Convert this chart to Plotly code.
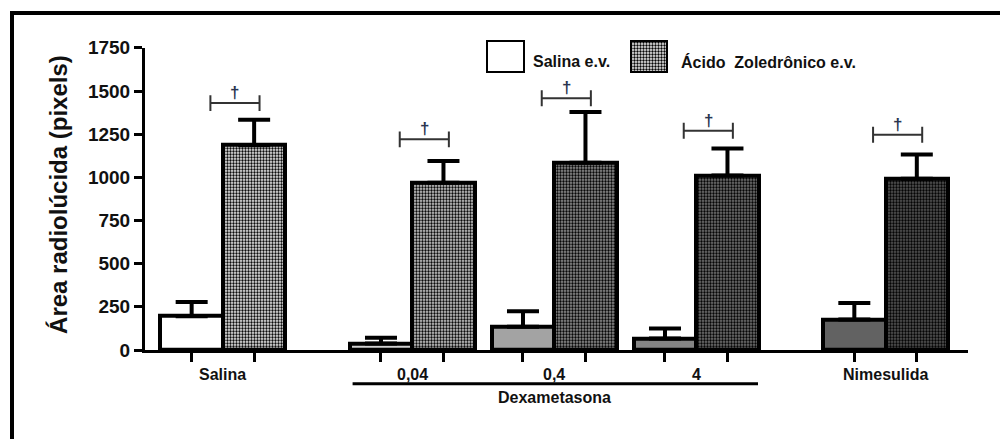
import plotly.graph_objects as go

# ---------------- data ----------------
groups = ["Salina", "0,04", "0,4", "4", "Nimesulida"]
salina_ev = [195, 38, 134, 67, 177]
salina_ev_sem = [83, 33, 90, 58, 95]
zol_ev = [1186, 969, 1084, 1011, 992]
zol_ev_sem = [148, 125, 294, 156, 140]
bracket_y = [1430, 1220, 1458, 1270, 1247]
y_ticks = [0, 250, 500, 750, 1000, 1250, 1500, 1750]
series_names = ["Salina e.v.", "Ácido\u00a0 Zoledrônico e.v."]
dex_label = "Dexametasona"
y_title = "Área radiolúcida (pixels)"
sig_mark = "\u2020"

# ---------------- layout helpers ----------------
W, H = 1000, 439
ML, MR, MT, MB = 145, 32, 20, 89
PW = W - ML - MR
PH = H - MT - MB
AX_BOTTOM = H - MB
AX_TOP = 46


def px_x(px):
    return (px - ML) / PW


def px_y(py):
    return (AX_BOTTOM - py) / PH


centers = [0, 4 / 3, 7 / 3, 10 / 3, 14 / 3]
half = 0.22
bw = 0.44
x_left = [c - half for c in centers]
x_right = [c + half for c in centers]

sal_fill = ["#ffffff", "#d2d2d2", "#a3a3a3", "#848484", "#626262"]
zol_bg = ["#ffffff", "#dcdcdc", "#9c9c9c", "#7c7c7c", "#5c5c5c"]

FONT = "Liberation Sans, Arial, sans-serif"
TXT = "#111111"

fig = go.Figure()

fig.add_trace(go.Bar(
    x=x_left, y=salina_ev, width=bw, name=series_names[0],
    marker=dict(color=sal_fill, line=dict(color="black", width=4)),
    error_y=dict(type="data", symmetric=False, array=salina_ev_sem,
                 arrayminus=[0] * len(salina_ev), color="black",
                 thickness=4, width=16),
    showlegend=False,
))
fig.add_trace(go.Bar(
    x=x_right, y=zol_ev, width=bw, name=series_names[1],
    marker=dict(color="black", line=dict(color="black", width=4),
                pattern=dict(shape=".", fgcolor="black", bgcolor=zol_bg,
                             size=3, solidity=0.5, fillmode="replace")),
    error_y=dict(type="data", symmetric=False, array=zol_ev_sem,
                 arrayminus=[0] * len(zol_ev), color="black",
                 thickness=4, width=16),
    showlegend=False,
))

# legend boxes on their own small axes
LX0, LX1, LY0, LY1 = 480, 675, 33, 76
fig.add_trace(go.Bar(
    x=[505.5], y=[31], base=[39], width=[37], xaxis="x2", yaxis="y2",
    marker=dict(color="white", line=dict(color="black", width=2)),
    showlegend=False, hoverinfo="skip",
))
fig.add_trace(go.Bar(
    x=[649], y=[31], base=[39], width=[36], xaxis="x2", yaxis="y2",
    marker=dict(color="black", line=dict(color="black", width=2),
                pattern=dict(shape=".", fgcolor="black", bgcolor="white",
                             size=3, solidity=0.5, fillmode="replace")),
    showlegend=False, hoverinfo="skip",
))

annotations = []
shapes = []

# legend texts
annotations.append(dict(x=px_x(531), y=px_y(60), xref="paper", yref="paper",
                        text=series_names[0], showarrow=False, xanchor="left",
                        yanchor="middle",
                        font=dict(family=FONT, size=16, color=TXT, weight="bold")))
annotations.append(dict(x=px_x(679), y=px_y(60), xref="paper", yref="paper",
                        text=series_names[1], showarrow=False, xanchor="left",
                        yanchor="middle",
                        font=dict(family=FONT, size=16, color=TXT, weight="bold")))

# group labels
for c, g in zip(centers, groups):
    annotations.append(dict(x=c, y=px_y(375), xref="x", yref="paper", text=g,
                            showarrow=False, xanchor="center", yanchor="middle",
                            font=dict(family=FONT, size=16, color=TXT, weight="bold")))

# Dexametasona underline + label
shapes.append(dict(type="line", xref="x", yref="paper",
                   x0=centers[1] - 0.42, x1=centers[3] + 0.435,
                   y0=px_y(384), y1=px_y(384),
                   line=dict(color="black", width=3)))
annotations.append(dict(x=centers[2], y=px_y(398), xref="x", yref="paper",
                        text=dex_label, showarrow=False, xanchor="center",
                        yanchor="middle",
                        font=dict(family=FONT, size=16, color=TXT, weight="bold")))

# significance brackets
b_off, b_half, b_tick = 0.085, 0.173, 46
for c, by in zip(centers, bracket_y):
    xc = c + b_off
    shapes.append(dict(type="line", xref="x", yref="y", x0=xc - b_half, x1=xc + b_half,
                       y0=by, y1=by, line=dict(color="#333333", width=2)))
    for xe in (xc - b_half, xc + b_half):
        shapes.append(dict(type="line", xref="x", yref="y", x0=xe, x1=xe,
                           y0=by - b_tick, y1=by + b_tick,
                           line=dict(color="#333333", width=2)))
    annotations.append(dict(x=xc, y=by, xref="x", yref="y", text=sig_mark,
                            showarrow=False, xanchor="center", yanchor="bottom",
                            yshift=-1,
                            font=dict(family=FONT, size=17, color="#2a3550",
                                      weight="bold")))

# y-axis title
annotations.append(dict(x=px_x(59), y=px_y(194), xref="paper", yref="paper",
                        text=y_title, showarrow=False, textangle=-90,
                        xanchor="center", yanchor="middle",
                        font=dict(family=FONT, size=24, color=TXT, weight="bold")))

# outer frame (top and left edges visible)
shapes.append(dict(type="line", xref="paper", yref="paper",
                   x0=px_x(10), x1=px_x(1010), y0=px_y(11), y1=px_y(11),
                   line=dict(color="black", width=4)))
shapes.append(dict(type="line", xref="paper", yref="paper",
                   x0=px_x(12), x1=px_x(12), y0=px_y(9), y1=px_y(450),
                   line=dict(color="black", width=4)))

x_range = [(ML - 222.9) / 142.0, (ML + PW - 222.9) / 142.0]

fig.update_layout(
    width=W, height=H,
    margin=dict(l=ML, r=MR, t=MT, b=MB, pad=0),
    paper_bgcolor="white", plot_bgcolor="white",
    barmode="overlay", bargap=0,
    showlegend=False,
    font=dict(family=FONT, color=TXT),
    xaxis=dict(range=x_range, domain=[0, 1], showgrid=False, zeroline=False,
               showline=True, linecolor="black", linewidth=3,
               tickmode="array", tickvals=x_left + x_right,
               ticktext=[""] * 10, ticks="outside", ticklen=9, tickwidth=2.5,
               tickcolor="black", fixedrange=True),
    yaxis=dict(range=[0, 1750], domain=[0, px_y(AX_TOP)], showgrid=False,
               zeroline=False, showline=True, linecolor="black", linewidth=3,
               tickmode="array", tickvals=y_ticks,
               ticktext=[str(v) for v in y_ticks],
               ticks="outside", ticklen=8, tickwidth=3, tickcolor="black",
               tickfont=dict(family=FONT, size=19, color=TXT, weight="bold"),
               fixedrange=True),
    xaxis2=dict(domain=[px_x(LX0), px_x(LX1)], range=[LX0, LX1], visible=False,
                anchor="y2", fixedrange=True),
    yaxis2=dict(domain=[px_y(LY1), px_y(LY0)], range=[LY1, LY0], visible=False,
                anchor="x2", fixedrange=True),
    annotations=annotations,
    shapes=shapes,
)

fig.write_html("out.html")
